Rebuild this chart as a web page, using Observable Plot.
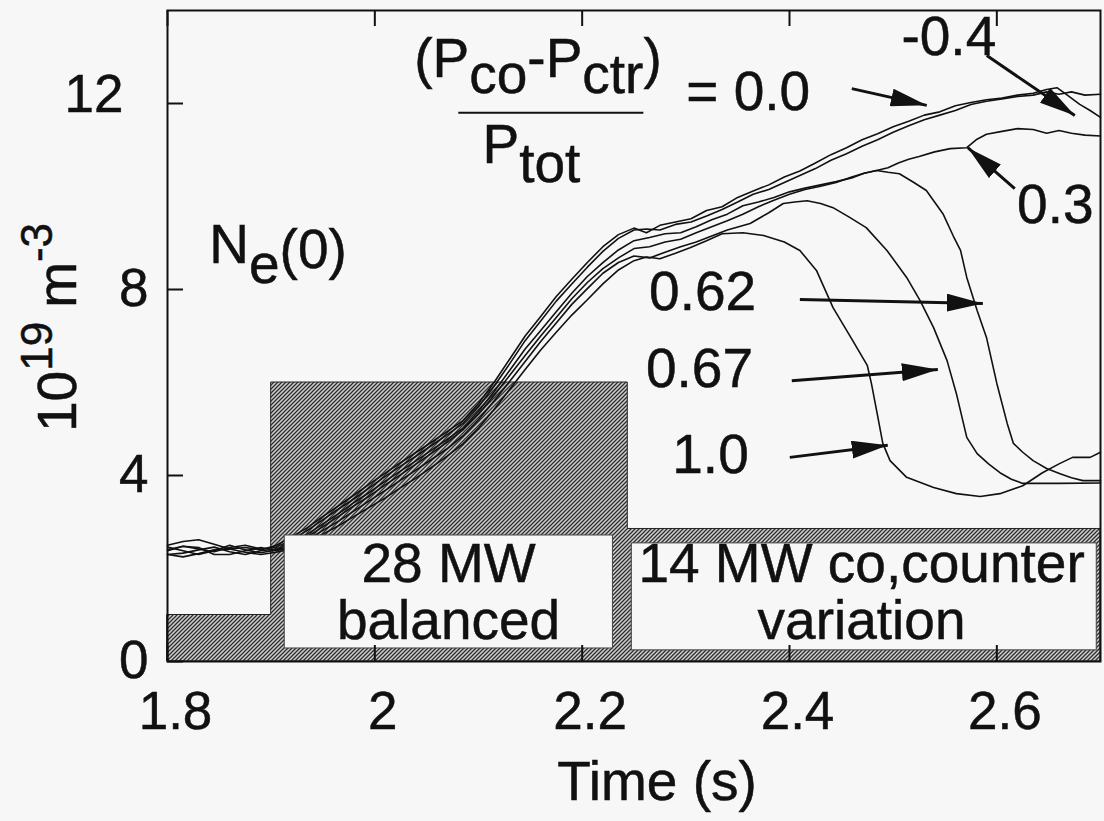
<!DOCTYPE html>
<html><head><meta charset="utf-8">
<script src="https://cdn.jsdelivr.net/npm/d3@7"></script>
<script src="https://cdn.jsdelivr.net/npm/@observablehq/plot@0.6"></script>
<style>
html,body{margin:0;padding:0;background:#f7f7f7;}
#chart svg{display:block;}
</style></head><body><div id="chart"></div>
<script>
// ---------- data ----------
const xTicks = [1.8, 2.0, 2.2, 2.4, 2.6];
const xTickLabels = ["1.8", "2", "2.2", "2.4", "2.6"];
const yTicksLow = [0, 4, 8];
const yTicksHigh = [12];
const yTicks = [0, 4, 8, 12];

// beam power waveform (in the density units of the plot)
const powerTime = [1.8, 1.9, 2.244, 2.7];
const powerLevel = [1.0, 6.0, 2.85, 2.85];

const fractions = ["-0.4", "0.0", "0.3", "0.62", "0.67", "1.0"];

const ne_m04 = [[1.800,2.50],[1.815,2.58],[1.830,2.62],[1.845,2.52],[1.860,2.42],[1.875,2.45],[1.890,2.40],[1.905,2.50],[1.920,2.68],[1.935,2.88],[1.950,3.12],[1.965,3.35],[1.980,3.58],[1.995,3.82],[2.010,4.05],[2.025,4.28],[2.040,4.50],[2.055,4.72],[2.070,4.95],[2.085,5.18],[2.100,5.55],[2.115,6.00],[2.130,6.50],[2.145,7.00],[2.160,7.42],[2.175,7.85],[2.190,8.22],[2.205,8.58],[2.220,8.92],[2.235,9.18],[2.250,9.32],[2.262,9.22],[2.275,9.38],[2.290,9.45],[2.305,9.52],[2.320,9.70],[2.335,9.78],[2.350,9.98],[2.365,10.12],[2.380,10.25],[2.395,10.42],[2.410,10.55],[2.425,10.72],[2.440,10.90],[2.455,11.05],[2.470,11.22],[2.485,11.35],[2.500,11.50],[2.515,11.62],[2.530,11.75],[2.545,11.82],[2.560,11.95],[2.575,12.02],[2.590,12.08],[2.605,12.12],[2.620,12.18],[2.635,12.22],[2.648,12.30],[2.658,12.34],[2.668,12.18],[2.680,11.98],[2.690,11.85],[2.700,11.70]];
const ne_00 = [[1.800,2.38],[1.815,2.48],[1.830,2.42],[1.845,2.36],[1.860,2.45],[1.875,2.50],[1.890,2.42],[1.905,2.46],[1.920,2.62],[1.935,2.82],[1.950,3.05],[1.965,3.28],[1.980,3.50],[1.995,3.74],[2.010,3.98],[2.025,4.20],[2.040,4.42],[2.055,4.65],[2.070,4.88],[2.085,5.12],[2.100,5.48],[2.115,5.92],[2.130,6.40],[2.145,6.90],[2.160,7.32],[2.175,7.75],[2.190,8.12],[2.205,8.48],[2.220,8.82],[2.235,9.10],[2.250,9.28],[2.262,9.30],[2.275,9.28],[2.290,9.40],[2.305,9.45],[2.320,9.58],[2.335,9.72],[2.350,9.88],[2.365,10.05],[2.380,10.15],[2.395,10.30],[2.410,10.45],[2.425,10.60],[2.440,10.78],[2.455,10.92],[2.470,11.08],[2.485,11.22],[2.500,11.38],[2.515,11.52],[2.530,11.65],[2.545,11.75],[2.560,11.85],[2.575,11.98],[2.590,12.05],[2.605,12.10],[2.620,12.15],[2.635,12.18],[2.648,12.25],[2.660,12.20],[2.672,12.25],[2.685,12.18],[2.700,12.20]];
const ne_03 = [[1.800,2.30],[1.815,2.33],[1.830,2.40],[1.845,2.46],[1.860,2.36],[1.875,2.30],[1.890,2.38],[1.905,2.42],[1.920,2.56],[1.935,2.74],[1.950,2.96],[1.965,3.18],[1.980,3.42],[1.995,3.64],[2.010,3.88],[2.025,4.10],[2.040,4.32],[2.055,4.55],[2.070,4.78],[2.085,5.02],[2.100,5.38],[2.115,5.80],[2.130,6.26],[2.145,6.72],[2.160,7.12],[2.175,7.52],[2.190,7.92],[2.205,8.28],[2.220,8.58],[2.235,8.85],[2.250,9.05],[2.265,9.12],[2.280,9.20],[2.295,9.22],[2.310,9.35],[2.325,9.50],[2.340,9.62],[2.355,9.80],[2.370,9.88],[2.385,9.98],[2.400,10.10],[2.415,10.18],[2.430,10.25],[2.445,10.32],[2.460,10.40],[2.472,10.50],[2.484,10.56],[2.495,10.62],[2.505,10.72],[2.515,10.80],[2.525,10.86],[2.540,10.96],[2.555,11.03],[2.571,11.05],[2.580,11.22],[2.590,11.34],[2.605,11.40],[2.620,11.46],[2.635,11.44],[2.648,11.36],[2.660,11.42],[2.672,11.36],[2.685,11.32],[2.700,11.30]];
const ne_062 = [[1.800,2.46],[1.815,2.38],[1.830,2.30],[1.845,2.38],[1.860,2.50],[1.875,2.40],[1.890,2.34],[1.905,2.40],[1.920,2.50],[1.935,2.68],[1.950,2.90],[1.965,3.12],[1.980,3.35],[1.995,3.56],[2.010,3.80],[2.025,4.02],[2.040,4.25],[2.055,4.48],[2.070,4.72],[2.085,4.98],[2.100,5.32],[2.115,5.72],[2.130,6.15],[2.145,6.58],[2.160,7.00],[2.175,7.40],[2.190,7.80],[2.205,8.15],[2.220,8.45],[2.235,8.68],[2.250,8.88],[2.265,8.92],[2.280,9.02],[2.295,9.08],[2.310,9.22],[2.325,9.35],[2.340,9.48],[2.355,9.62],[2.370,9.78],[2.385,9.92],[2.400,10.05],[2.415,10.15],[2.430,10.22],[2.445,10.30],[2.460,10.42],[2.472,10.50],[2.484,10.56],[2.495,10.52],[2.506,10.49],[2.520,10.30],[2.532,10.13],[2.548,9.63],[2.558,9.15],[2.565,8.84],[2.571,8.26],[2.581,7.55],[2.590,6.97],[2.600,5.98],[2.610,5.12],[2.616,4.69],[2.625,4.50],[2.635,4.32],[2.648,4.15],[2.661,4.04],[2.672,3.95],[2.683,3.89],[2.700,3.89]];
const ne_067 = [[1.800,2.40],[1.815,2.48],[1.830,2.45],[1.845,2.30],[1.860,2.30],[1.875,2.38],[1.890,2.45],[1.905,2.38],[1.920,2.46],[1.935,2.62],[1.950,2.82],[1.965,3.02],[1.980,3.24],[1.995,3.46],[2.010,3.68],[2.025,3.90],[2.040,4.12],[2.055,4.35],[2.070,4.58],[2.085,4.85],[2.100,5.20],[2.115,5.60],[2.130,6.02],[2.145,6.45],[2.160,6.88],[2.175,7.28],[2.190,7.68],[2.205,8.02],[2.220,8.35],[2.235,8.58],[2.250,8.72],[2.265,8.68],[2.280,8.80],[2.295,8.92],[2.310,9.02],[2.325,9.15],[2.340,9.28],[2.362,9.42],[2.380,9.65],[2.394,9.85],[2.405,9.88],[2.417,9.91],[2.430,9.85],[2.442,9.76],[2.458,9.55],[2.474,9.33],[2.494,8.84],[2.513,8.26],[2.526,7.76],[2.539,7.18],[2.552,6.47],[2.561,5.76],[2.571,4.82],[2.581,4.47],[2.592,4.25],[2.603,4.06],[2.614,3.92],[2.625,3.83],[2.660,3.83],[2.700,3.84]];
const ne_10 = [[1.800,2.30],[1.815,2.25],[1.830,2.32],[1.845,2.40],[1.860,2.42],[1.875,2.35],[1.890,2.30],[1.905,2.35],[1.920,2.42],[1.935,2.56],[1.950,2.74],[1.965,2.92],[1.980,3.12],[1.995,3.32],[2.010,3.52],[2.025,3.74],[2.040,3.95],[2.055,4.18],[2.070,4.42],[2.085,4.68],[2.100,5.02],[2.115,5.42],[2.130,5.85],[2.145,6.28],[2.160,6.70],[2.175,7.08],[2.190,7.45],[2.205,7.78],[2.220,8.12],[2.235,8.42],[2.250,8.62],[2.262,8.70],[2.275,8.66],[2.290,8.78],[2.304,8.90],[2.320,9.05],[2.335,9.20],[2.355,9.22],[2.375,9.16],[2.395,9.02],[2.410,8.84],[2.426,8.41],[2.442,7.61],[2.461,6.90],[2.475,6.37],[2.479,5.98],[2.484,5.40],[2.490,4.69],[2.497,4.32],[2.513,3.96],[2.539,3.74],[2.561,3.61],[2.584,3.55],[2.603,3.61],[2.625,3.78],[2.644,4.06],[2.660,4.25],[2.673,4.39],[2.690,4.39],[2.700,4.50]];

const seriesValues = [ne_m04, ne_00, ne_03, ne_062, ne_067, ne_10];

// annotations (data coordinates)
const valueLabels = [
  {text: "-0.4", t: 2.5085, ne: 13.03},
  {text: "= 0.0", t: 2.3009, ne: 11.85},
  {text: "0.3", t: 2.620, ne: 9.42},
  {text: "0.62", t: 2.265, ne: 7.55},
  {text: "0.67", t: 2.262, ne: 5.89},
  {text: "1.0", t: 2.2874, ne: 4.04}
];
const arrows = [
  {t1: 2.5903, n1: 13.03, t2: 2.6752, n2: 11.74},
  {t1: 2.4601, n1: 12.32, t2: 2.5324, n2: 11.96},
  {t1: 2.6173, n1: 10.17, t2: 2.5720, n2: 11.05},
  {t1: 2.4100, n1: 7.785, t2: 2.5865, n2: 7.70},
  {t1: 2.4022, n1: 6.04, t2: 2.5431, n2: 6.28},
  {t1: 2.4003, n1: 4.39, t2: 2.4948, n2: 4.65}
];
const boxes = [
  {t1: 1.9131, t2: 2.2297, n1: 0.28, n2: 2.71, line1: "28 MW", line2: "balanced", tc: 2.0716},
  {t1: 2.2479, t2: 2.6964, n1: 0.24, n2: 2.54, line1: "14 MW co,counter", line2: "variation", tc: 2.4700}
];

// ---------- tables ----------
const rows = fractions.flatMap((f, i) => seriesValues[i].map(([t, ne]) => ({frac: f, t, ne})));
const power = powerTime.map((t, i) => ({t, p: powerLevel[i]}));

const FONT = "'Liberation Sans', Arial, Helvetica, sans-serif";
const INK = "#111";
const tickLen = 16;
const plotH = 821 - 10 - 160;
const plotW = 1104 - 167 - 4;
const fmtX = d => xTickLabels[xTicks.indexOf(d)];

const chart = Plot.plot({
  width: 1104,
  height: 821,
  marginLeft: 167,
  marginRight: 4,
  marginTop: 10,
  marginBottom: 160,
  style: {background: "#f7f7f7", fontFamily: FONT, color: INK},
  x: {domain: [1.8, 2.7]},
  y: {domain: [0, 14]},
  marks: [
    Plot.areaY(power, {x: "t", y: "p", curve: "step-after", fill: "url(#hatch)", stroke: "#222", strokeWidth: 1}),
    Plot.line(rows, {x: "t", y: "ne", z: "frac", stroke: INK, strokeWidth: 1.6}),
    Plot.rect(boxes, {x1: "t1", x2: "t2", y1: "n1", y2: "n2", fill: "#f7f7f7", stroke: "#444", strokeWidth: 1}),
    Plot.tickX(xTicks, {x: d => d, insetTop: plotH - tickLen, stroke: INK, strokeWidth: 2}),
    Plot.tickX(xTicks, {x: d => d, insetBottom: plotH - tickLen, stroke: INK, strokeWidth: 2}),
    Plot.tickY(yTicks, {y: d => d, insetRight: plotW - tickLen, stroke: INK, strokeWidth: 2}),
    Plot.axisX(xTicks, {tickSize: 0, tickPadding: 30, tickFormat: fmtX, fontSize: 53, dx: 8, label: null, stroke: INK, strokeWidth: 0.5}),
    Plot.axisY(yTicksLow, {tickSize: 0, tickPadding: 19, fontSize: 53, label: null}),
    Plot.axisY(yTicksHigh, {tickSize: 0, tickPadding: 44, dy: -8, fontSize: 53, label: null}),
    Plot.frame({stroke: INK, strokeWidth: 2}),
    Plot.link(arrows, {x1: "t1", y1: "n1", x2: "t2", y2: "n2", stroke: INK, strokeWidth: 3})
  ]
});
document.getElementById("chart").append(chart);

// ---------- decorations ----------
const svg = d3.select(chart);
const sx = v => chart.scale("x").apply(v);
const sy = v => chart.scale("y").apply(v);

const defs = svg.insert("defs", ":first-child");
const pat = defs.append("pattern").attr("id", "hatch").attr("patternUnits", "userSpaceOnUse").attr("width", 4).attr("height", 4);
pat.append("rect").attr("width", 4).attr("height", 4).attr("fill", "#cfcfcf");
pat.append("path").attr("d", "M-1,1 L1,-1 M0,4 L4,0 M3,5 L5,3").attr("stroke", "#2e2e2e").attr("stroke-width", 1.3);
defs.append("marker").attr("id", "ah").attr("viewBox", "0 0 36 18").attr("refX", 36).attr("refY", 9)
  .attr("markerWidth", 36).attr("markerHeight", 18).attr("markerUnits", "userSpaceOnUse").attr("orient", "auto")
  .append("path").attr("d", "M0,0 L36,9 L0,18 Z").attr("fill", INK);
svg.selectAll('g[aria-label="link"] path').attr("marker-end", "url(#ah)");
// slightly heavier axis numerals, like the printed original
svg.selectAll('g[aria-label="y-axis tick label"] text, g[aria-label="x-axis tick label"] text')
  .attr("stroke", INK).attr("stroke-width", 0.5);

const g = svg.append("g").attr("fill", INK).attr("stroke", INK).attr("stroke-width", 0.5).attr("font-family", FONT);
function label(px, py, spans, size, anchor, transform) {
  const t = g.append("text").attr("x", px).attr("y", py).attr("font-size", size).attr("text-anchor", anchor || "start");
  if (transform) t.attr("transform", transform).attr("x", 0).attr("y", 0);
  for (const s of spans) {
    const ts = t.append("tspan").text(s.t);
    if (s.dy) ts.attr("dy", s.dy);
    if (s.dx) ts.attr("dx", s.dx);
    if (s.size) ts.attr("font-size", s.size);
  }
  return t;
}

// value labels
for (const v of valueLabels) label(sx(v.t), sy(v.ne), [{t: v.text}], 55);

// box labels
for (const b of boxes) {
  label(sx(b.tc), sy(1.70), [{t: b.line1}], 55, "middle");
  label(sx(b.tc), sy(0.48), [{t: b.line2}], 55, "middle");
}

// N_e(0)
label(sx(1.8408), sy(8.56), [{t: "N"}, {t: "e", dy: 20}, {t: "(0)", dy: -15}], 55);

// fraction (Pco-Pctr)/Ptot
label(sx(2.0385), sy(12.56), [{t: "(P"}, {t: "co", dy: 16}, {t: "-P", dy: -16}, {t: "ctr", dy: 16}, {t: ")", dy: -16}], 55);
g.append("line").attr("x1", sx(2.0810)).attr("x2", sx(2.2595)).attr("y1", sy(11.79)).attr("y2", sy(11.79))
  .attr("stroke", INK).attr("stroke-width", 2.2);
label(sx(2.1043), sy(10.71), [{t: "P"}, {t: "tot", dy: 19}], 55);

// axis titles
label(657, 800, [{t: "Time (s)"}], 55, "middle");
label(0, 0, [{t: "10"}, {t: "19", size: 44, dy: -24}, {t: "m", size: 55, dy: 24, dx: 14}, {t: "-3", size: 44, dy: -24}], 55, "start", "translate(76,432) rotate(-90)");
</script></body></html>
